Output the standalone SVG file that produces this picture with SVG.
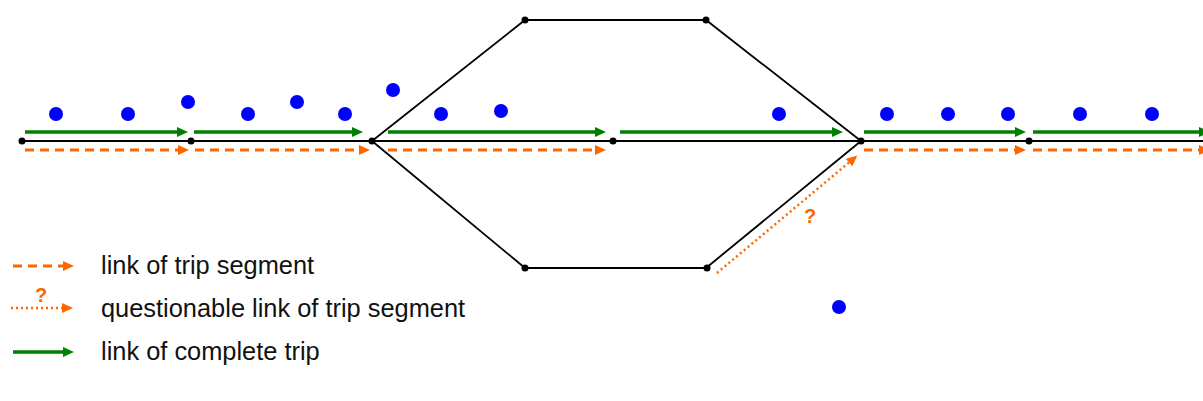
<svg xmlns="http://www.w3.org/2000/svg" width="1203" height="401" viewBox="0 0 1203 401">
<style>
.net{stroke:#000;stroke-width:1.8;fill:none}
.nd{fill:#000}
.pt{fill:#0000FF}
.gr{stroke:#008000;stroke-width:3.5;fill:none;marker-end:url(#ag)}
.or{stroke:#FF6600;stroke-width:3;fill:none;stroke-dasharray:9 6;marker-end:url(#ao)}
.dt{stroke:#FF6600;stroke-width:2.5;fill:none;stroke-dasharray:2 3;marker-end:url(#ao)}
.lbl{font-family:"Liberation Sans",Arial,sans-serif;font-size:25.4px;fill:#111}
.q{font-family:"Liberation Sans",Arial,sans-serif;font-size:20px;font-weight:bold;fill:#FF6600}
</style>
<defs>
<marker id="ag" markerUnits="userSpaceOnUse" markerWidth="12" markerHeight="10" refX="4" refY="5" orient="auto"><path d="M0,0 L11,5 L0,10 z" fill="#008000"/></marker>
<marker id="ao" markerUnits="userSpaceOnUse" markerWidth="12" markerHeight="10" refX="4" refY="5" orient="auto"><path d="M0,0 L11,5 L0,10 z" fill="#FF6600"/></marker>
</defs>
<rect width="1203" height="401" fill="#fff"/>
<g id="network">
<path class="net" d="M22,141 H1203"/>
<path class="net" d="M372,141 L525,20 H706 L861,141"/>
<path class="net" d="M372,141 L525,268 H706 L861,141"/>
</g>
<g id="connectors">
<line class="gr" x1="25" y1="132" x2="181" y2="132"/>
<line class="gr" x1="194" y1="132" x2="356" y2="132"/>
<line class="gr" x1="388" y1="132" x2="599" y2="132"/>
<line class="gr" x1="620" y1="132" x2="836" y2="132"/>
<line class="gr" x1="864" y1="132" x2="1019" y2="132"/>
<line class="gr" x1="1033" y1="132" x2="1203" y2="132"/>
<line class="or" x1="25" y1="150" x2="182" y2="150"/>
<line class="or" x1="195" y1="150" x2="363" y2="150"/>
<line class="or" x1="388" y1="150" x2="599" y2="150"/>
<line class="or" x1="864" y1="150" x2="1019" y2="150"/>
<line class="or" x1="1033" y1="150" x2="1203" y2="150"/>
<line class="dt" x1="717" y1="273" x2="852" y2="160"/>
<text class="q" x="810" y="223" text-anchor="middle">?</text>
</g>
<g id="nodes">
<circle id="n1" class="nd" cx="22" cy="141" r="3.5"/>
<circle id="n2" class="nd" cx="191" cy="141" r="3.5"/>
<circle id="n3" class="nd" cx="372" cy="141" r="3.5"/>
<circle id="n4" class="nd" cx="613" cy="141" r="3.5"/>
<circle id="n5" class="nd" cx="861" cy="141" r="3.5"/>
<circle id="n6" class="nd" cx="1029" cy="141" r="3.5"/>
<circle id="n7" class="nd" cx="525" cy="20" r="3.5"/>
<circle id="n8" class="nd" cx="706" cy="20" r="3.5"/>
<circle id="n9" class="nd" cx="525" cy="268" r="3.5"/>
<circle id="n10" class="nd" cx="707" cy="268" r="3.5"/>
</g>
<g id="points">
<circle class="pt" cx="56" cy="114" r="7"/>
<circle class="pt" cx="128" cy="114" r="7"/>
<circle class="pt" cx="188" cy="102" r="7"/>
<circle class="pt" cx="248" cy="114" r="7"/>
<circle class="pt" cx="297" cy="102" r="7"/>
<circle class="pt" cx="345" cy="114" r="7"/>
<circle class="pt" cx="393" cy="90" r="7"/>
<circle class="pt" cx="441" cy="114" r="7"/>
<circle class="pt" cx="501" cy="111" r="7"/>
<circle class="pt" cx="779" cy="114" r="7"/>
<circle class="pt" cx="887" cy="114" r="7"/>
<circle class="pt" cx="948" cy="114" r="7"/>
<circle class="pt" cx="1008" cy="114" r="7"/>
<circle class="pt" cx="1080" cy="114" r="7"/>
<circle class="pt" cx="1152" cy="114" r="7"/>
<circle class="pt" cx="839" cy="307" r="7"/>
</g>
<g id="legend">
<line class="or" x1="13" y1="266" x2="67" y2="266"/>
<text class="lbl" x="101" y="274">link of trip segment</text>
<line class="dt" x1="11" y1="308" x2="66" y2="308"/>
<text class="q" x="41" y="302" text-anchor="middle">?</text>
<text class="lbl" x="101" y="317">questionable link of trip segment</text>
<line class="gr" x1="13" y1="352" x2="67" y2="352"/>
<text class="lbl" x="101" y="360">link of complete trip</text>
</g>
</svg>
